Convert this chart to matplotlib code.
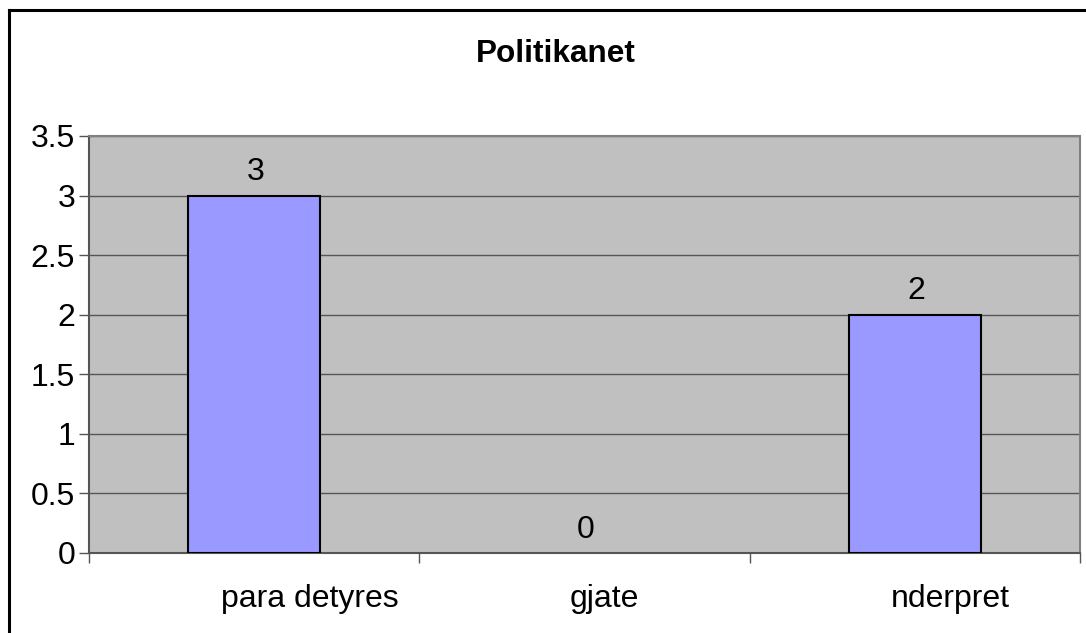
import matplotlib.pyplot as plt
from matplotlib.lines import Line2D
from matplotlib.transforms import ScaledTranslation
import numpy as np

plt.rcParams['font.family'] = ['Liberation Sans', 'DejaVu Sans']

# te dhenat
categories = ['para detyres', 'gjate', 'nderpret']
values = [3, 0, 2]
y_ticks = [0, 0.5, 1, 1.5, 2, 2.5, 3, 3.5]
y_tick_labels = ['0', '0.5', '1', '1.5', '2', '2.5', '3', '3.5']
title = 'Politikanet'

# zhvendosja horizontale e etiketave te kategorive (ne inch), si ne origjinal
label_shift = [0.56, 0.20, 0.35]

fig = plt.figure(figsize=(10.86, 6.33), dpi=100)
ax = fig.add_axes([0.0820, 0.1264, 0.9125, 0.6588])

x = np.arange(len(categories))
ax.set_facecolor('#C0C0C0')
edge_w = [1.5 if v > 0 else 0 for v in values]
ax.bar(x, values, width=0.4, color='#9999FF', edgecolor='black', linewidth=edge_w, zorder=3)

# etiketat mbi shtylla
for xi, v in zip(x, values):
    ax.annotate(str(v), (xi, v), xytext=(1, 6), textcoords='offset points',
                ha='center', va='bottom', fontsize=23, zorder=4)

ax.set_xlim(-0.5, len(categories) - 0.5)
ax.set_ylim(0, 3.5)
ax.set_yticks(y_ticks)
ax.set_yticklabels(y_tick_labels, fontsize=23)
ax.yaxis.grid(True, color='#555555', linewidth=1.0, zorder=1)
ax.set_axisbelow(True)

# x ticks ne kufijte e kategorive, etiketat ne qender
ax.set_xticks(np.arange(-0.5, len(categories), 1.0))
ax.set_xticklabels([])
ax.set_xticks(x, minor=True)
ax.set_xticklabels(categories, minor=True, fontsize=23)
ax.tick_params(axis='x', which='major', length=7, color='#555555', width=1)
ax.tick_params(axis='x', which='minor', length=0, pad=22)
ax.tick_params(axis='y', length=7, color='#555555', width=1, pad=3)

for lab, dx in zip(ax.get_xticklabels(minor=True), label_shift):
    lab.set_transform(lab.get_transform() + ScaledTranslation(dx, 0, fig.dpi_scale_trans))

for s in ax.spines.values():
    s.set_color('#808080')
    s.set_linewidth(1.5)
ax.spines['left'].set_color('#555555')
ax.spines['bottom'].set_color('#555555')

fig.text(0.5115, 1 - 62 / 633, title, ha='center', va='baseline', fontsize=22.7, fontweight='bold')

# kufiri i figures (vetem lart dhe majtas)
fig.add_artist(Line2D([9 / 1086, 1.0], [1 - 10 / 633, 1 - 10 / 633], color='black', linewidth=2.2))
fig.add_artist(Line2D([9 / 1086, 9 / 1086], [0.0, 1 - 10 / 633], color='black', linewidth=2.2))

fig.savefig('out.png', dpi=100)
